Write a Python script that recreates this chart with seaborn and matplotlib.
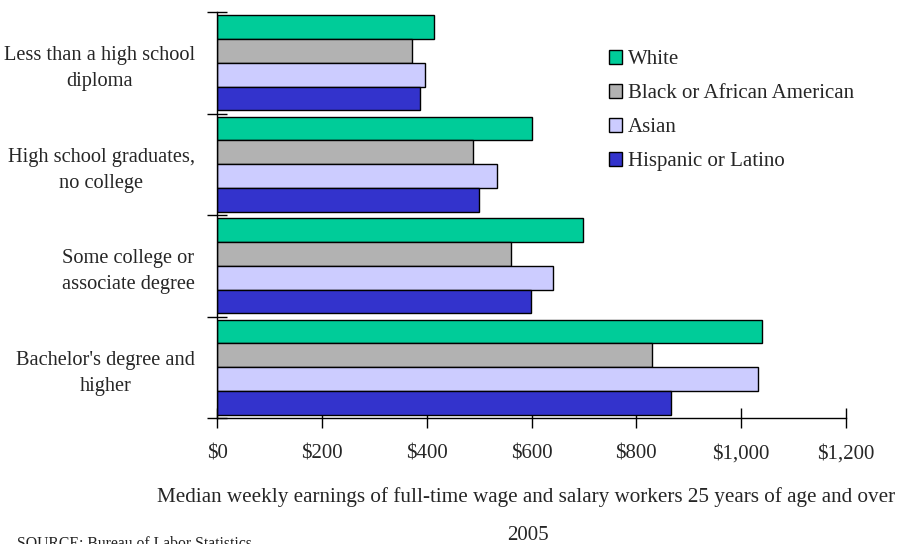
import numpy as np
import pandas as pd
import seaborn as sns
import matplotlib.pyplot as plt
from matplotlib.patches import Patch
from matplotlib.ticker import FixedLocator, FuncFormatter

# ---- data ----
categories = ["Less than a high school\ndiploma",
              "High school graduates,\nno college",
              "Some college or\nassociate degree",
              "Bachelor's degree and\nhigher"]
groups = ["White", "Black or African American", "Asian", "Hispanic or Latino"]
white = [414, 601, 699, 1040]
black = [372, 489, 560, 830]
asian = [397, 535, 641, 1032]
hispanic = [387, 499, 599, 867]
colors = ["#00CC99", "#B2B2B2", "#CCCCFF", "#3333CC"]
x_ticks = [0, 200, 400, 600, 800, 1000, 1200]

rows = []
for g, vals in zip(groups, [white, black, asian, hispanic]):
    for c, v in zip(categories, vals):
        rows.append({"category": c, "group": g, "earnings": v})
df = pd.DataFrame(rows)

sns.set_style("white")
plt.rcParams['font.family'] = ['Liberation Serif', 'DejaVu Serif']
FS = 15

fig = plt.figure(figsize=(9.05, 5.44), dpi=100)
ax = fig.add_axes([217 / 905, 1 - 418 / 544, (846 - 217) / 905, (418 - 12) / 544])

sns.barplot(data=df, y="category", x="earnings", hue="group", order=categories,
            hue_order=groups, palette=colors, orient="h", width=0.94,
            edgecolor="black", linewidth=1, saturation=1, legend=False, ax=ax)

ax.set_xlim(0, 1200)
ax.set_ylim(3.5, -0.5)
ax.set_xlabel("")
ax.set_ylabel("")
sns.despine(ax=ax)
for s in ["left", "bottom"]:
    ax.spines[s].set_color("black")
    ax.spines[s].set_linewidth(1)

ax.xaxis.set_major_locator(FixedLocator(x_ticks))
ax.xaxis.set_major_formatter(FuncFormatter(lambda v, p: "${:,.0f}".format(v)))
ax.tick_params(axis="x", direction="inout", length=14, width=1, color="black",
               labelsize=FS, pad=12, bottom=True)

ax.yaxis.set_minor_locator(FixedLocator(np.arange(-0.5, 4.0, 1.0)))
ax.tick_params(axis="y", which="major", length=0, labelsize=14.7, pad=16)
ax.tick_params(axis="y", which="minor", direction="inout", length=14, width=1,
               color="black", left=True)
for lab in ax.get_yticklabels():
    lab.set_multialignment("center")
    lab.set_linespacing(1.5)

handles = [Patch(facecolor=c, edgecolor="black", linewidth=1) for c in colors]
fig.legend(handles, groups, loc="upper left", bbox_to_anchor=(601 / 905, 1 - 42 / 544),
           frameon=False, fontsize=FS, handlelength=0.6, handleheight=0.6,
           handletextpad=0.3, labelspacing=0.72, borderaxespad=0)

fig.text(526 / 905, 1 - 497 / 544,
         "Median weekly earnings of full-time wage and salary workers 25 years of age and over",
         ha="center", va="center", fontsize=15.2)
fig.text(528 / 905, 1 - 535 / 544, "2005", ha="center", va="center", fontsize=FS)
fig.text(17 / 905, 0.0, "SOURCE: Bureau of Labor Statistics", ha="left", va="center",
         fontsize=11.3, color="#222222")

fig.savefig("out.png", dpi=100)
